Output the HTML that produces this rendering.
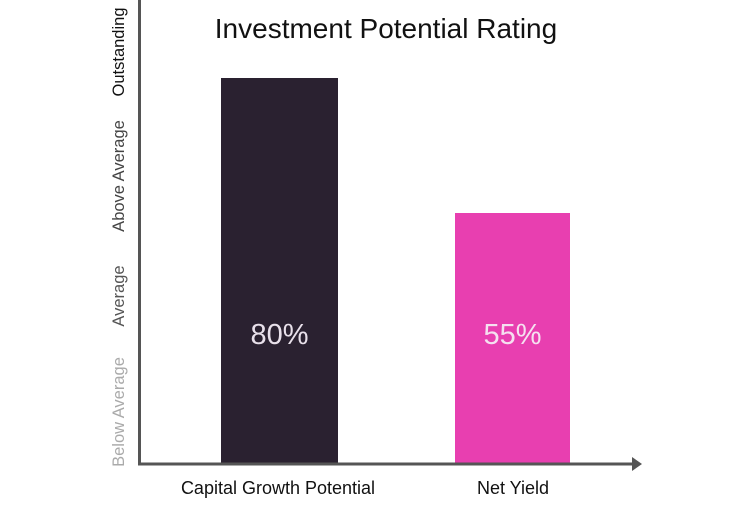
<!DOCTYPE html><html><head><style>body{margin:0;background:#fff}</style></head><body>
<svg width="750" height="500" xmlns="http://www.w3.org/2000/svg" font-family="Liberation Sans, sans-serif">
<text x="386" y="38" font-size="28" text-anchor="middle" fill="#111">Investment Potential Rating</text>
<rect x="221" y="78" width="117" height="386" fill="#2a2130"/>
<rect x="455" y="213" width="115" height="251" fill="#e83fb0"/>
<text x="279.5" y="344" font-size="29" text-anchor="middle" fill="#e8e0ea">80%</text>
<text x="512.5" y="344" font-size="29" text-anchor="middle" fill="#f5e0f0">55%</text>
<line x1="139.5" y1="0" x2="139.5" y2="465" stroke="#555" stroke-width="3"/>
<line x1="138" y1="464" x2="632" y2="464" stroke="#555" stroke-width="3"/>
<polygon points="632,457 642,464 632,471" fill="#555"/>
<g font-size="16.5" text-anchor="middle">
<text transform="translate(124,52) rotate(-90)" fill="#111">Outstanding</text>
<text transform="translate(124,176) rotate(-90)" fill="#444">Above Average</text>
<text transform="translate(124,296) rotate(-90)" fill="#555">Average</text>
<text transform="translate(124,412) rotate(-90)" fill="#aaa">Below Average</text>
</g>
<text x="278" y="494" font-size="18" text-anchor="middle" fill="#111">Capital Growth Potential</text>
<text x="513" y="494" font-size="18" text-anchor="middle" fill="#111">Net Yield</text>
</svg></body></html>
